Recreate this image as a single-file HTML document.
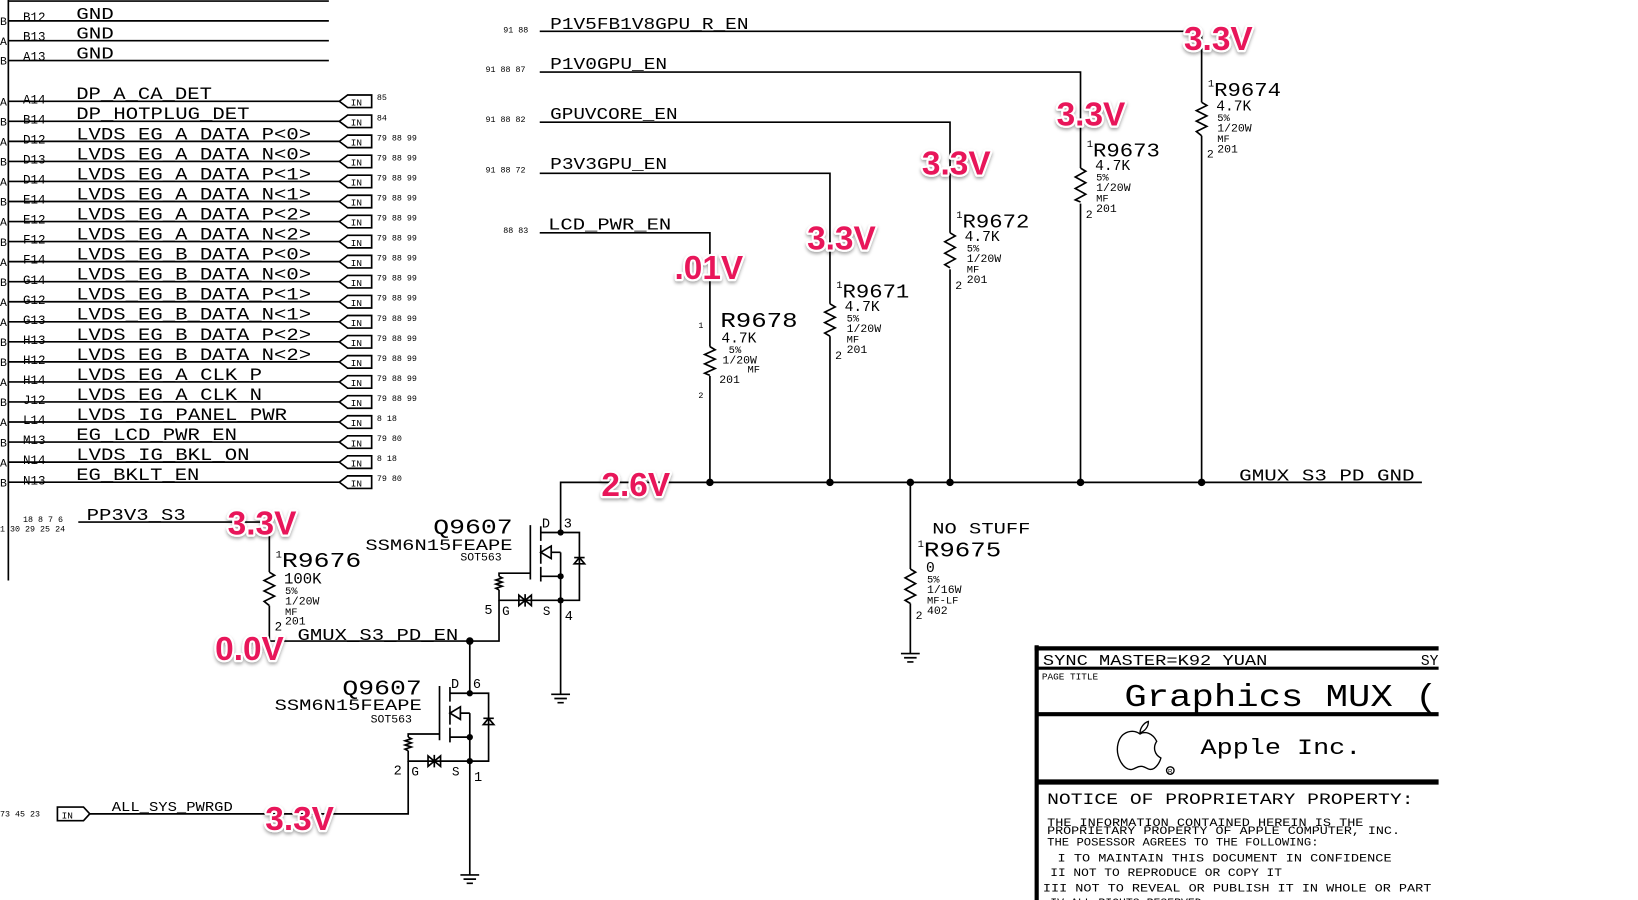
<!DOCTYPE html>
<html><head><meta charset="utf-8"><style>
html,body{margin:0;padding:0;background:#fff;width:1638px;height:900px;overflow:hidden}
svg{display:block}
.m{font-family:"Liberation Mono",monospace;fill:#000}
.w{stroke:#000;stroke-width:1.6;fill:none}
.v{font-family:"Liberation Sans",sans-serif;font-weight:bold;font-size:32px;fill:#e8185a;stroke:#fff;stroke-width:4;paint-order:stroke;stroke-linejoin:round}
</style></head><body>
<svg width="1638" height="900" viewBox="0 0 1569 862" preserveAspectRatio="none" xmlns="http://www.w3.org/2000/svg">
<defs>
<filter id="sh" x="-20%" y="-20%" width="140%" height="150%"><feDropShadow dx="0" dy="2" stdDeviation="1.5" flood-color="#000" flood-opacity="0.35"/></filter>
</defs>
<!-- left connector -->
<line class="w" x1="8" y1="0" x2="8" y2="556"/>
<line class="w" x1="8" y1="1" x2="315" y2="1"/>
<g class="m">
<line class="w" x1="8" y1="20" x2="315" y2="20"/><text x="0" y="24" font-size="11">B</text><text x="22" y="20" font-size="12">B12</text><text x="73" y="18" font-size="16" textLength="36" lengthAdjust="spacingAndGlyphs">GND</text>
<line class="w" x1="8" y1="39" x2="315" y2="39"/><text x="0" y="43" font-size="11">A</text><text x="22" y="39" font-size="12">B13</text><text x="73" y="37" font-size="16" textLength="36" lengthAdjust="spacingAndGlyphs">GND</text>
<line class="w" x1="8" y1="58" x2="315" y2="58"/><text x="0" y="62" font-size="11">B</text><text x="22" y="58" font-size="12">A13</text><text x="73" y="56" font-size="16" textLength="36" lengthAdjust="spacingAndGlyphs">GND</text>
</g>
<g class="m">
<g transform="translate(0,97)"><line class="w" x1="8" y1="0" x2="325" y2="0"/><text x="0" y="4" font-size="11">A</text><text x="22" y="2" font-size="12">A14</text><text x="73" y="-2" font-size="17" textLength="130" lengthAdjust="spacingAndGlyphs">DP_A_CA_DET</text><path class="w" stroke-width="2.6" d="M325 0 L333 -6 L356 -6 L356 6 L333 6 Z"/><text x="336" y="4" font-size="9">IN</text><text x="361" y="-1" font-size="8">85</text></g>
<g transform="translate(0,116.2)"><line class="w" x1="8" y1="0" x2="325" y2="0"/><text x="0" y="4" font-size="11">B</text><text x="22" y="2" font-size="12">B14</text><text x="73" y="-2" font-size="17" textLength="166" lengthAdjust="spacingAndGlyphs">DP_HOTPLUG_DET</text><path class="w" stroke-width="2.6" d="M325 0 L333 -6 L356 -6 L356 6 L333 6 Z"/><text x="336" y="4" font-size="9">IN</text><text x="361" y="-1" font-size="8">84</text></g>
<g transform="translate(0,135.4)"><line class="w" x1="8" y1="0" x2="325" y2="0"/><text x="0" y="4" font-size="11">A</text><text x="22" y="2" font-size="12">D12</text><text x="73" y="-2" font-size="17" textLength="225" lengthAdjust="spacingAndGlyphs">LVDS_EG_A_DATA_P&lt;0&gt;</text><path class="w" stroke-width="2.6" d="M325 0 L333 -6 L356 -6 L356 6 L333 6 Z"/><text x="336" y="4" font-size="9">IN</text><text x="361" y="-1" font-size="8">79 88 99</text></g>
<g transform="translate(0,154.6)"><line class="w" x1="8" y1="0" x2="325" y2="0"/><text x="0" y="4" font-size="11">B</text><text x="22" y="2" font-size="12">D13</text><text x="73" y="-2" font-size="17" textLength="225" lengthAdjust="spacingAndGlyphs">LVDS_EG_A_DATA_N&lt;0&gt;</text><path class="w" stroke-width="2.6" d="M325 0 L333 -6 L356 -6 L356 6 L333 6 Z"/><text x="336" y="4" font-size="9">IN</text><text x="361" y="-1" font-size="8">79 88 99</text></g>
<g transform="translate(0,173.8)"><line class="w" x1="8" y1="0" x2="325" y2="0"/><text x="0" y="4" font-size="11">A</text><text x="22" y="2" font-size="12">D14</text><text x="73" y="-2" font-size="17" textLength="225" lengthAdjust="spacingAndGlyphs">LVDS_EG_A_DATA_P&lt;1&gt;</text><path class="w" stroke-width="2.6" d="M325 0 L333 -6 L356 -6 L356 6 L333 6 Z"/><text x="336" y="4" font-size="9">IN</text><text x="361" y="-1" font-size="8">79 88 99</text></g>
<g transform="translate(0,193)"><line class="w" x1="8" y1="0" x2="325" y2="0"/><text x="0" y="4" font-size="11">B</text><text x="22" y="2" font-size="12">E14</text><text x="73" y="-2" font-size="17" textLength="225" lengthAdjust="spacingAndGlyphs">LVDS_EG_A_DATA_N&lt;1&gt;</text><path class="w" stroke-width="2.6" d="M325 0 L333 -6 L356 -6 L356 6 L333 6 Z"/><text x="336" y="4" font-size="9">IN</text><text x="361" y="-1" font-size="8">79 88 99</text></g>
<g transform="translate(0,212.2)"><line class="w" x1="8" y1="0" x2="325" y2="0"/><text x="0" y="4" font-size="11">A</text><text x="22" y="2" font-size="12">E12</text><text x="73" y="-2" font-size="17" textLength="225" lengthAdjust="spacingAndGlyphs">LVDS_EG_A_DATA_P&lt;2&gt;</text><path class="w" stroke-width="2.6" d="M325 0 L333 -6 L356 -6 L356 6 L333 6 Z"/><text x="336" y="4" font-size="9">IN</text><text x="361" y="-1" font-size="8">79 88 99</text></g>
<g transform="translate(0,231.4)"><line class="w" x1="8" y1="0" x2="325" y2="0"/><text x="0" y="4" font-size="11">B</text><text x="22" y="2" font-size="12">F12</text><text x="73" y="-2" font-size="17" textLength="225" lengthAdjust="spacingAndGlyphs">LVDS_EG_A_DATA_N&lt;2&gt;</text><path class="w" stroke-width="2.6" d="M325 0 L333 -6 L356 -6 L356 6 L333 6 Z"/><text x="336" y="4" font-size="9">IN</text><text x="361" y="-1" font-size="8">79 88 99</text></g>
<g transform="translate(0,250.6)"><line class="w" x1="8" y1="0" x2="325" y2="0"/><text x="0" y="4" font-size="11">A</text><text x="22" y="2" font-size="12">F14</text><text x="73" y="-2" font-size="17" textLength="225" lengthAdjust="spacingAndGlyphs">LVDS_EG_B_DATA_P&lt;0&gt;</text><path class="w" stroke-width="2.6" d="M325 0 L333 -6 L356 -6 L356 6 L333 6 Z"/><text x="336" y="4" font-size="9">IN</text><text x="361" y="-1" font-size="8">79 88 99</text></g>
<g transform="translate(0,269.8)"><line class="w" x1="8" y1="0" x2="325" y2="0"/><text x="0" y="4" font-size="11">B</text><text x="22" y="2" font-size="12">G14</text><text x="73" y="-2" font-size="17" textLength="225" lengthAdjust="spacingAndGlyphs">LVDS_EG_B_DATA_N&lt;0&gt;</text><path class="w" stroke-width="2.6" d="M325 0 L333 -6 L356 -6 L356 6 L333 6 Z"/><text x="336" y="4" font-size="9">IN</text><text x="361" y="-1" font-size="8">79 88 99</text></g>
<g transform="translate(0,289)"><line class="w" x1="8" y1="0" x2="325" y2="0"/><text x="0" y="4" font-size="11">A</text><text x="22" y="2" font-size="12">G12</text><text x="73" y="-2" font-size="17" textLength="225" lengthAdjust="spacingAndGlyphs">LVDS_EG_B_DATA_P&lt;1&gt;</text><path class="w" stroke-width="2.6" d="M325 0 L333 -6 L356 -6 L356 6 L333 6 Z"/><text x="336" y="4" font-size="9">IN</text><text x="361" y="-1" font-size="8">79 88 99</text></g>
<g transform="translate(0,308.2)"><line class="w" x1="8" y1="0" x2="325" y2="0"/><text x="0" y="4" font-size="11">A</text><text x="22" y="2" font-size="12">G13</text><text x="73" y="-2" font-size="17" textLength="225" lengthAdjust="spacingAndGlyphs">LVDS_EG_B_DATA_N&lt;1&gt;</text><path class="w" stroke-width="2.6" d="M325 0 L333 -6 L356 -6 L356 6 L333 6 Z"/><text x="336" y="4" font-size="9">IN</text><text x="361" y="-1" font-size="8">79 88 99</text></g>
<g transform="translate(0,327.4)"><line class="w" x1="8" y1="0" x2="325" y2="0"/><text x="0" y="4" font-size="11">B</text><text x="22" y="2" font-size="12">H13</text><text x="73" y="-2" font-size="17" textLength="225" lengthAdjust="spacingAndGlyphs">LVDS_EG_B_DATA_P&lt;2&gt;</text><path class="w" stroke-width="2.6" d="M325 0 L333 -6 L356 -6 L356 6 L333 6 Z"/><text x="336" y="4" font-size="9">IN</text><text x="361" y="-1" font-size="8">79 88 99</text></g>
<g transform="translate(0,346.6)"><line class="w" x1="8" y1="0" x2="325" y2="0"/><text x="0" y="4" font-size="11">B</text><text x="22" y="2" font-size="12">H12</text><text x="73" y="-2" font-size="17" textLength="225" lengthAdjust="spacingAndGlyphs">LVDS_EG_B_DATA_N&lt;2&gt;</text><path class="w" stroke-width="2.6" d="M325 0 L333 -6 L356 -6 L356 6 L333 6 Z"/><text x="336" y="4" font-size="9">IN</text><text x="361" y="-1" font-size="8">79 88 99</text></g>
<g transform="translate(0,365.8)"><line class="w" x1="8" y1="0" x2="325" y2="0"/><text x="0" y="4" font-size="11">A</text><text x="22" y="2" font-size="12">H14</text><text x="73" y="-2" font-size="17" textLength="178" lengthAdjust="spacingAndGlyphs">LVDS_EG_A_CLK_P</text><path class="w" stroke-width="2.6" d="M325 0 L333 -6 L356 -6 L356 6 L333 6 Z"/><text x="336" y="4" font-size="9">IN</text><text x="361" y="-1" font-size="8">79 88 99</text></g>
<g transform="translate(0,385)"><line class="w" x1="8" y1="0" x2="325" y2="0"/><text x="0" y="4" font-size="11">B</text><text x="22" y="2" font-size="12">J12</text><text x="73" y="-2" font-size="17" textLength="178" lengthAdjust="spacingAndGlyphs">LVDS_EG_A_CLK_N</text><path class="w" stroke-width="2.6" d="M325 0 L333 -6 L356 -6 L356 6 L333 6 Z"/><text x="336" y="4" font-size="9">IN</text><text x="361" y="-1" font-size="8">79 88 99</text></g>
<g transform="translate(0,404.2)"><line class="w" x1="8" y1="0" x2="325" y2="0"/><text x="0" y="4" font-size="11">A</text><text x="22" y="2" font-size="12">L14</text><text x="73" y="-2" font-size="17" textLength="202" lengthAdjust="spacingAndGlyphs">LVDS_IG_PANEL_PWR</text><path class="w" stroke-width="2.6" d="M325 0 L333 -6 L356 -6 L356 6 L333 6 Z"/><text x="336" y="4" font-size="9">IN</text><text x="361" y="-1" font-size="8">8 18</text></g>
<g transform="translate(0,423.4)"><line class="w" x1="8" y1="0" x2="325" y2="0"/><text x="0" y="4" font-size="11">B</text><text x="22" y="2" font-size="12">M13</text><text x="73" y="-2" font-size="17" textLength="154" lengthAdjust="spacingAndGlyphs">EG_LCD_PWR_EN</text><path class="w" stroke-width="2.6" d="M325 0 L333 -6 L356 -6 L356 6 L333 6 Z"/><text x="336" y="4" font-size="9">IN</text><text x="361" y="-1" font-size="8">79 80</text></g>
<g transform="translate(0,442.6)"><line class="w" x1="8" y1="0" x2="325" y2="0"/><text x="0" y="4" font-size="11">A</text><text x="22" y="2" font-size="12">N14</text><text x="73" y="-2" font-size="17" textLength="166" lengthAdjust="spacingAndGlyphs">LVDS_IG_BKL_ON</text><path class="w" stroke-width="2.6" d="M325 0 L333 -6 L356 -6 L356 6 L333 6 Z"/><text x="336" y="4" font-size="9">IN</text><text x="361" y="-1" font-size="8">8 18</text></g>
<g transform="translate(0,461.8)"><line class="w" x1="8" y1="0" x2="325" y2="0"/><text x="0" y="4" font-size="11">B</text><text x="22" y="2" font-size="12">N13</text><text x="73" y="-2" font-size="17" textLength="118" lengthAdjust="spacingAndGlyphs">EG_BKLT_EN</text><path class="w" stroke-width="2.6" d="M325 0 L333 -6 L356 -6 L356 6 L333 6 Z"/><text x="336" y="4" font-size="9">IN</text><text x="361" y="-1" font-size="8">79 80</text></g>
</g>

<!-- top enable nets -->
<g class="m">
<text x="482" y="31" font-size="8">91 88</text><text x="527" y="28" font-size="16" textLength="190" lengthAdjust="spacingAndGlyphs">P1V5FB1V8GPU_R_EN</text>
<text x="465" y="69" font-size="8">91 88 87</text><text x="527" y="66" font-size="16" textLength="112" lengthAdjust="spacingAndGlyphs">P1V0GPU_EN</text>
<text x="465" y="117" font-size="8">91 88 82</text><text x="527" y="114" font-size="16" textLength="122" lengthAdjust="spacingAndGlyphs">GPUVCORE_EN</text>
<text x="465" y="165" font-size="8">91 88 72</text><text x="527" y="162" font-size="16" textLength="112" lengthAdjust="spacingAndGlyphs">P3V3GPU_EN</text>
<text x="482" y="223" font-size="8">88 83</text><text x="525" y="220" font-size="16" textLength="118" lengthAdjust="spacingAndGlyphs">LCD_PWR_EN</text>
</g>
<path class="w" d="M517 30 H1151 V462 M517 69 H1035 V462 M517 117 H910 V462 M517 166 H795 V462 M517 223 H680 V462"/>
<!-- bus -->
<path class="w" d="M537 510 V462 H1362 M872 462 V626"/>
<g fill="#000"><circle cx="680" cy="462" r="3.6"/><circle cx="795" cy="462" r="3.6"/><circle cx="872" cy="462" r="3.6"/><circle cx="910" cy="462" r="3.6"/><circle cx="1035" cy="462" r="3.6"/><circle cx="1151" cy="462" r="3.6"/><circle cx="450" cy="614" r="3.6"/></g>
<text class="m" x="1187" y="460" font-size="16" textLength="168" lengthAdjust="spacingAndGlyphs">GMUX_S3_PD_GND</text>

<!-- resistor zigzags (white background under) -->
<g fill="#fff" stroke="none">
<rect x="673" y="332" width="14" height="28"/><rect x="788" y="291" width="14" height="31"/><rect x="903" y="223" width="14" height="35"/><rect x="1028" y="161" width="14" height="34"/><rect x="1144" y="98" width="14" height="32"/><rect x="865" y="545" width="14" height="33"/><rect x="251" y="548" width="14" height="32"/>
</g>
<g class="w">
<path d="M680 332 l5 3 l-10 4.5 l10 4.5 l-10 4.5 l10 4.5 l-10 4.5 l5 2"/>
<path d="M795 291 l5 3 l-10 5 l10 5 l-10 5 l10 5 l-10 5 l5 3"/>
<path d="M910 223 l5 3 l-10 5.5 l10 5.5 l-10 5.5 l10 5.5 l-10 5.5 l5 3"/>
<path d="M1035 161 l5 3 l-10 5.5 l10 5.5 l-10 5.5 l10 5.5 l-10 5.5 l5 2"/>
<path d="M1151 98 l5 3 l-10 5 l10 5 l-10 5 l10 5 l-10 5 l5 4"/>
<path d="M872 545 l5 3 l-10 5.5 l10 5.5 l-10 5.5 l10 5.5 l-10 5 l5 3"/>
<path d="M258 548 l5 3 l-10 5 l10 5 l-10 5 l10 5 l-10 5 l5 4"/>
</g>
<!-- resistor texts -->
<g class="m">
<text x="669" y="314" font-size="8">1</text><text x="669" y="381" font-size="8">2</text>
<text x="690" y="313" font-size="20" textLength="74" lengthAdjust="spacingAndGlyphs">R9678</text>
<text x="691" y="328" font-size="14">4.7K</text><text x="698" y="338" font-size="10">5%</text><text x="692" y="348" font-size="11">1/20W</text><text x="716" y="357" font-size="10">MF</text><text x="689" y="367" font-size="11">201</text>

<text x="801" y="276" font-size="10">1</text><text x="807" y="285" font-size="19" textLength="64" lengthAdjust="spacingAndGlyphs">R9671</text>
<text x="809" y="298" font-size="14">4.7K</text><text x="811" y="308" font-size="10">5%</text><text x="811" y="318" font-size="11">1/20W</text><text x="811" y="328" font-size="10">MF</text><text x="800" y="344" font-size="11">2</text><text x="811" y="338" font-size="11">201</text>

<text x="916" y="209" font-size="10">1</text><text x="922" y="218" font-size="19" textLength="64" lengthAdjust="spacingAndGlyphs">R9672</text>
<text x="924" y="231" font-size="14">4.7K</text><text x="926" y="241" font-size="10">5%</text><text x="926" y="251" font-size="11">1/20W</text><text x="926" y="261" font-size="10">MF</text><text x="915" y="277" font-size="11">2</text><text x="926" y="271" font-size="11">201</text>

<text x="1041" y="141" font-size="10">1</text><text x="1047" y="150" font-size="19" textLength="64" lengthAdjust="spacingAndGlyphs">R9673</text>
<text x="1049" y="163" font-size="14">4.7K</text><text x="1050" y="173" font-size="10">5%</text><text x="1050" y="183" font-size="11">1/20W</text><text x="1050" y="193" font-size="10">MF</text><text x="1040" y="209" font-size="11">2</text><text x="1050" y="203" font-size="11">201</text>

<text x="1157" y="83" font-size="10">1</text><text x="1163" y="92" font-size="19" textLength="64" lengthAdjust="spacingAndGlyphs">R9674</text>
<text x="1165" y="106" font-size="14">4.7K</text><text x="1166" y="116" font-size="10">5%</text><text x="1166" y="126" font-size="11">1/20W</text><text x="1166" y="136" font-size="10">MF</text><text x="1156" y="151" font-size="11">2</text><text x="1166" y="146" font-size="11">201</text>

<text x="893" y="511" font-size="15" textLength="94" lengthAdjust="spacingAndGlyphs">NO STUFF</text>
<text x="879" y="524" font-size="10">1</text><text x="885" y="533" font-size="20" textLength="74" lengthAdjust="spacingAndGlyphs">R9675</text>
<text x="887" y="548" font-size="14">0</text><text x="888" y="558" font-size="10">5%</text><text x="888" y="568" font-size="11">1/16W</text><text x="888" y="578" font-size="10">MF-LF</text><text x="877" y="593" font-size="11">2</text><text x="888" y="588" font-size="11">402</text>

<text x="264" y="534" font-size="10">1</text><text x="270" y="543" font-size="20" textLength="76" lengthAdjust="spacingAndGlyphs">R9676</text>
<text x="272" y="559" font-size="15">100K</text><text x="273" y="569" font-size="10">5%</text><text x="273" y="579" font-size="11">1/20W</text><text x="273" y="589" font-size="10">MF</text><text x="263" y="604" font-size="12">2</text><text x="273" y="598" font-size="11">201</text>
</g>

<!-- PP3V3_S3 and gate nets -->
<g class="m">
<text x="22" y="500" font-size="8">18 8 7 6</text><text x="0" y="509" font-size="8">1 30 29 25 24</text>
<text x="83" y="498" font-size="16" textLength="95" lengthAdjust="spacingAndGlyphs">PP3V3_S3</text>
<text x="285" y="613" font-size="16" textLength="154" lengthAdjust="spacingAndGlyphs">GMUX_S3_PD_EN</text>
<text x="107" y="777" font-size="13" textLength="116" lengthAdjust="spacingAndGlyphs">ALL_SYS_PWRGD</text>
<text x="0" y="782" font-size="8">73 45 23</text>
</g>
<path class="w" d="M75 500 H258 V548 M258 580 V614 H478 V575"/>
<path class="w" stroke-width="2.6" d="M55 773 H80 L86 779.5 L80 786 H55 Z"/>
<text class="m" x="59" y="784" font-size="9">IN</text>
<path class="w" d="M86 779.5 H391 V729"/>
<path class="w" d="M450 614 V664 M537 575 V665 M450 729 V838"/>

<!-- MOSFET body -->
<g id="q1">
<path class="w" d="M537 510 H555 V575 H537 M537 510 H518 M518 504 V518 M518 522 V540 M518 543 V557 M537 529 V552 H518 M537 552 V575 M508 503 V555 M508 549 H478 V552 M478 565 V575 H537"/>
<path class="w" d="M537 529 H528 M528 523 L518 529 L528 535 Z"/>
<path class="w" fill="#fff" d="M550 534 H560 M550 540 H560 L555 534 Z"/>
<path class="w" d="M478 552 l3 1.5 l-6 2 l6 2 l-6 2 l6 2 l-6 2 l3 1.5"/>
<path class="w" d="M497 570 L509 580 V570 L497 580 Z M503 569 V581"/>
<circle cx="537" cy="510" r="3" fill="#000"/><circle cx="537" cy="552" r="3" fill="#000"/><circle cx="537" cy="575" r="3" fill="#000"/>
</g>
<use href="#q1" transform="translate(-87,154)"/>
<g class="m">
<text x="519" y="505" font-size="13">D</text><text x="540" y="505" font-size="13">3</text>
<text x="464" y="588" font-size="13">5</text><text x="481" y="589" font-size="12">G</text><text x="520" y="589" font-size="12">S</text><text x="541" y="594" font-size="13">4</text>
<text x="432" y="659" font-size="13">D</text><text x="453" y="659" font-size="13">6</text>
<text x="377" y="742" font-size="13">2</text><text x="394" y="743" font-size="12">G</text><text x="433" y="743" font-size="12">S</text><text x="454" y="748" font-size="13">1</text>
<text x="415" y="511" font-size="20" textLength="76" lengthAdjust="spacingAndGlyphs">Q9607</text>
<text x="350" y="527" font-size="15" textLength="141" lengthAdjust="spacingAndGlyphs">SSM6N15FEAPE</text>
<text x="441" y="537" font-size="11">SOT563</text>
<text x="328" y="665" font-size="20" textLength="76" lengthAdjust="spacingAndGlyphs">Q9607</text>
<text x="263" y="680" font-size="15" textLength="141" lengthAdjust="spacingAndGlyphs">SSM6N15FEAPE</text>
<text x="355" y="692" font-size="11">SOT563</text>
</g>
<!-- grounds -->
<g class="w">
<path d="M528 665 H546 M531 669 H543 M534 673 H540"/>
<path d="M441 838 H459 M444 842 H456 M447 846 H453"/>
<path d="M863 626 H881 M866 630 H878 M869 634 H875"/>
</g>

<!-- voltage annotations -->
<g filter="url(#sh)">
<text class="v" x="1167" y="48" text-anchor="middle">3.3V</text>
<text class="v" x="1045" y="120" text-anchor="middle">3.3V</text>
<text class="v" x="916" y="167" text-anchor="middle">3.3V</text>
<text class="v" x="806" y="239" text-anchor="middle">3.3V</text>
<text class="v" x="679" y="267" text-anchor="middle">.01V</text>
<text class="v" x="609" y="475" text-anchor="middle">2.6V</text>
<text class="v" x="251" y="512" text-anchor="middle">3.3V</text>
<text class="v" x="239" y="632" text-anchor="middle">0.0V</text>
<text class="v" x="287" y="795" text-anchor="middle">3.3V</text>
</g>

<!-- title block -->
<g stroke="#000" fill="none">
<line x1="993" y1="618" x2="993" y2="862" stroke-width="4"/>
<line x1="991" y1="621" x2="1378" y2="621" stroke-width="4"/>
<line x1="993" y1="640" x2="1378" y2="640" stroke-width="3"/>
<line x1="993" y1="684" x2="1378" y2="684" stroke-width="4"/>
<line x1="993" y1="749" x2="1378" y2="749" stroke-width="5"/>
</g>
<g class="m">
<text x="999" y="637" font-size="14" textLength="215" lengthAdjust="spacingAndGlyphs">SYNC MASTER=K92 YUAN</text>
<text x="1361" y="637" font-size="14">SY</text>
<text x="998" y="651" font-size="9">PAGE TITLE</text>
<text x="1077" y="676" font-size="30" textLength="300" lengthAdjust="spacingAndGlyphs">Graphics MUX (</text>
<text x="1150" y="722" font-size="21" textLength="154" lengthAdjust="spacingAndGlyphs">Apple Inc.</text>
<text x="1003" y="770" font-size="15" textLength="351" lengthAdjust="spacingAndGlyphs">NOTICE OF PROPRIETARY PROPERTY:</text>
<text x="1003" y="791" font-size="11" textLength="303" lengthAdjust="spacingAndGlyphs">THE INFORMATION CONTAINED HEREIN IS THE</text>
<text x="1003" y="799" font-size="11" textLength="338" lengthAdjust="spacingAndGlyphs">PROPRIETARY PROPERTY OF APPLE COMPUTER, INC.</text>
<text x="1003" y="810" font-size="11" textLength="260" lengthAdjust="spacingAndGlyphs">THE POSESSOR AGREES TO THE FOLLOWING:</text>
<text x="1013" y="825" font-size="11" textLength="320" lengthAdjust="spacingAndGlyphs">I TO MAINTAIN THIS DOCUMENT IN CONFIDENCE</text>
<text x="1006" y="839" font-size="11" textLength="222" lengthAdjust="spacingAndGlyphs">II NOT TO REPRODUCE OR COPY IT</text>
<text x="999" y="854" font-size="11" textLength="372" lengthAdjust="spacingAndGlyphs">III NOT TO REVEAL OR PUBLISH IT IN WHOLE OR PART</text>
<text x="1006" y="868" font-size="11">IV ALL RIGHTS RESERVED</text>
</g>
<!-- apple logo -->
<g fill="none" stroke="#000" stroke-width="1.3">
<path d="M1092 703 C1086 698 1074 700 1071 712 C1068 724 1076 738 1084 737 C1088 736 1089 734 1093 734 C1097 734 1099 737 1102 737 C1107 737 1111 730 1112 726 C1106 723 1104 716 1108 710 C1104 702 1097 700 1092 703 Z"/>
<path d="M1092 702 C1092 697 1096 692 1100 691 C1100 696 1097 700 1092 702 Z"/>
<circle cx="1121" cy="738" r="3.6"/>
</g>
<text x="1118.8" y="740.8" font-family="Liberation Sans,sans-serif" font-size="6">R</text>
</svg>
</body></html>
